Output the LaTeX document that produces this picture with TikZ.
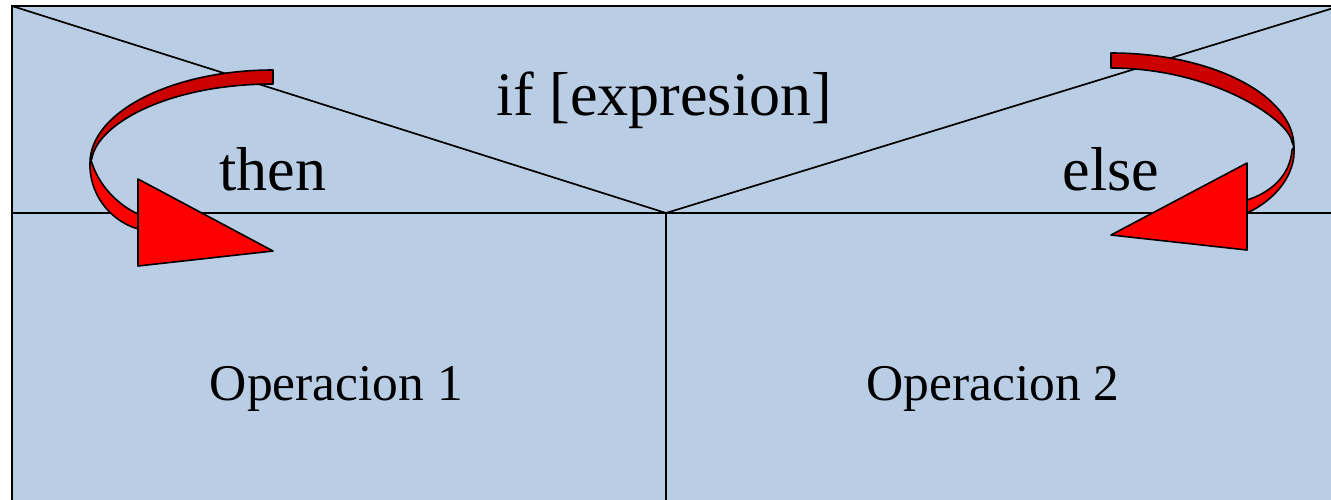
\documentclass[tikz,border=0pt]{standalone}
\usepackage{fontspec}
\setmainfont{Liberation Serif}
\newfontfamily\tnrfont{Liberation Serif}
\begin{document}
\begin{tikzpicture}[x=1pt,y=-1pt,
  frame/.style={draw=black,line width=2pt,fill=boxblue},
  divline/.style={draw=black,line width=2pt},
  diag/.style={draw=black,line width=1.7pt},
  bigtext/.style={font=\tnrfont\fontsize{62}{70}\selectfont,anchor=base,inner sep=0pt},
  optext/.style={font=\tnrfont\fontsize{51.5}{60}\selectfont,anchor=base,inner sep=0pt},
  darkband/.style={draw=black,line width=1.6pt,fill=darkred,line join=round},
  brightband/.style={draw=black,line width=1.6pt,fill=red,line join=round}]
\definecolor{boxblue}{RGB}{185,205,229}
\definecolor{darkred}{RGB}{204,0,0}
\useasboundingbox (0,0) rectangle (1331,499);
\clip (0,0) rectangle (1331,499);
% frame
\coordinate (tl) at (12,6);
\coordinate (tr) at (1340,6);
\coordinate (ml) at (12,213);
\coordinate (mr) at (1345,213);
\coordinate (mid) at (666,213);
\coordinate (bot) at (666,510);
\path[frame] (tl) rectangle (1345,510);
\draw[divline] (ml) -- (mr);
\draw[divline] (mid) -- (bot);
\draw[diag] (tl) -- (mid) -- (tr);
% texts
\node[bigtext] (ifx) at (664,115) {if [expresion]};
\node[bigtext] (then) at (273,190) {then};
\node[bigtext] (else) at (1111,190) {else};
\node[optext] (op1) at (336.5,400) {Operacion 1};
\node[optext] (op2) at (993,400) {Operacion 2};
% left curved arrow
\path[darkband] (273,70) .. controls (171.9,70) and (90,112.2) .. (90,163)
  -- (92,158) .. controls (98,124) and (168,84) .. (273,84) -- cycle;
\path[brightband] (90,163) .. controls (89,192) and (108,220) .. (138,229)
  -- (138,214) .. controls (118,205) and (98,185) .. (91,160) -- cycle;
\path[brightband] (138,179) -- (273,251) -- (138,266) -- cycle;
% right curved arrow
\path[darkband] (1111,53) .. controls (1212.6,53) and (1294,95.6) .. (1294,147)
  -- (1292,142) .. controls (1288,118) and (1210,68) .. (1111,68) -- cycle;
\path[brightband] (1294,147) .. controls (1296,175) and (1275,200) .. (1247,213)
  -- (1247,200) .. controls (1272,192) and (1290,175) .. (1292,150) -- cycle;
\path[brightband] (1247,163) -- (1111,235) -- (1247,250) -- cycle;
\end{tikzpicture}
\end{document}
